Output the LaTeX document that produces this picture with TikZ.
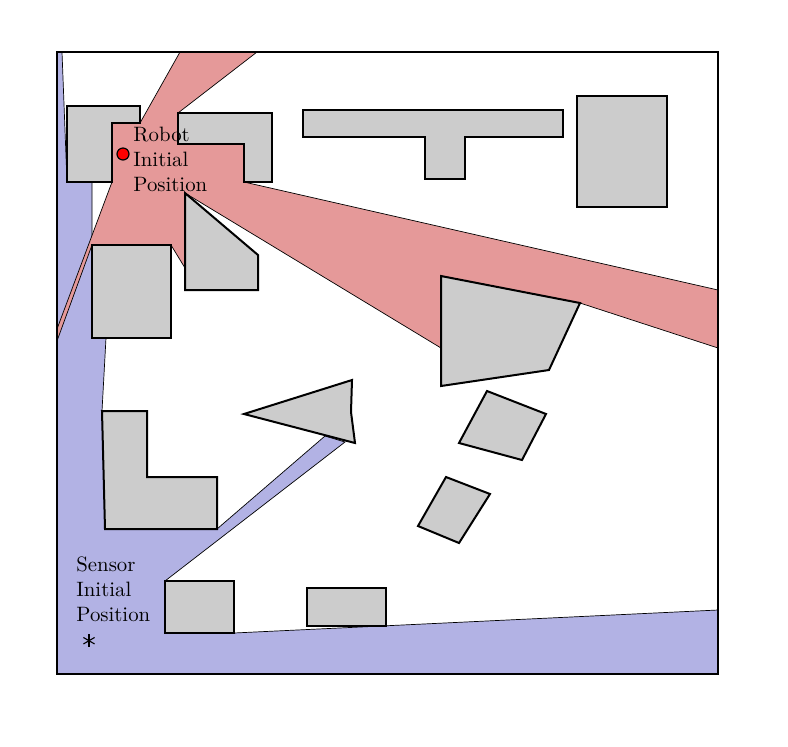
\documentclass[tikz,border=0pt]{standalone}
\definecolor{regred}{RGB}{229,153,153}
\definecolor{regblue}{RGB}{178,178,228}
\definecolor{obst}{RGB}{204,204,204}
\tikzset{
  obstacle/.style={fill=obst,draw=black,line width=1pt,line join=miter},
  region/.style={draw=black,line width=0.35pt},
  lbl/.style={anchor=base west,inner sep=0pt,font=\fontsize{10.4}{12.5}\selectfont},
  astspoke/.style={line width=0.55pt},
}
\begin{document}
\begin{tikzpicture}[x=0.5pt,y=-0.5pt]
\useasboundingbox (0,0) rectangle (788,746);
% sensor visibility region
\filldraw[region,fill=regblue] (57,52) -- (62,52) -- (67,182) -- (92,182) -- (92,338) -- (106,338) -- (102,411) -- (105,529) -- (217,529) -- (325,436) -- (345,442) -- (165,581) -- (165,633) -- (234,633) -- (718,610) -- (718,674) -- (57,674) -- cycle;
% robot visibility region
\filldraw[region,fill=regred] (180,52) -- (257,52) -- (178,113) -- (178,144) -- (244,144) -- (244,182) -- (718,290) -- (718,348) -- (580,303) -- (441,276) -- (441,348) -- (185,193) -- (185,268) -- (171,245) -- (92,245) -- (57,341) -- (57,329) -- (112,182) -- (112,123) -- (140,123) -- cycle;
% obstacles
\draw[obstacle] (67,106) -- (140,106) -- (140,123) -- (112,123) -- (112,182) -- (67,182) -- cycle;
\draw[obstacle] (178,113) -- (272,113) -- (272,182) -- (244,182) -- (244,144) -- (178,144) -- cycle;
\draw[obstacle] (303,110) -- (563,110) -- (563,137) -- (465,137) -- (465,179) -- (425,179) -- (425,137) -- (303,137) -- cycle;
\draw[obstacle] (577,96) rectangle (667,207);
\draw[obstacle] (92,245) rectangle (171,338);
\draw[obstacle] (185,193) -- (258,255) -- (258,290) -- (185,290) -- cycle;
\draw[obstacle] (441,276) -- (580,303) -- (549,370) -- (441,386) -- cycle;
\draw[obstacle] (244,414) -- (352,380) -- (351,412) -- (355,443) -- cycle;
\draw[obstacle] (487,391) -- (546,414) -- (522,460) -- (459,443) -- cycle;
\draw[obstacle] (446,477) -- (490,494) -- (459,543) -- (418,526) -- cycle;
\draw[obstacle] (102,411) -- (147,411) -- (147,477) -- (217,477) -- (217,529) -- (105,529) -- cycle;
\draw[obstacle] (165,581) rectangle (234,633);
\draw[obstacle] (307,588) rectangle (386,626);
% frame
\draw[line width=1pt] (57,52) rectangle (718,674);
% labels
\node[lbl] (r1) at (133,141.7) {Robot};
\node[lbl] (r2) at (133,166.7) {Initial};
\node[lbl] (r3) at (133,191.7) {Position};
\node[lbl] (s1) at (76,571.7) {Sensor};
\node[lbl] (s2) at (76,596.7) {Initial};
\node[lbl] (s3) at (76,621.7) {Position};
% markers
\node[circle,fill=red,draw=black,line width=0.6pt,minimum size=6pt,inner sep=0pt] (robot) at (123,154) {};
\coordinate (sensor) at (89,640.7);
\draw[astspoke] ([shift={(0,-6.5)}]sensor) -- ([shift={(0,6.5)}]sensor);
\draw[astspoke] ([shift={(-5.6,-3.25)}]sensor) -- ([shift={(5.6,3.25)}]sensor);
\draw[astspoke] ([shift={(-5.6,3.25)}]sensor) -- ([shift={(5.6,-3.25)}]sensor);
\end{tikzpicture}
\end{document}
